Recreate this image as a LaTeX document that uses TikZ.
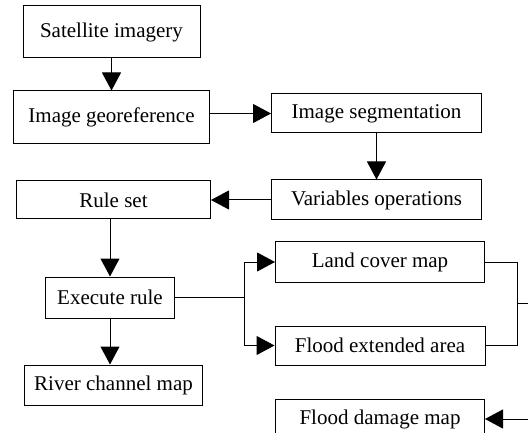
\documentclass[tikz,border=0pt]{standalone}
\usepackage{fontspec}
\setmainfont{Liberation Serif}
\usetikzlibrary{positioning,arrows.meta,calc}

\begin{document}
\begin{tikzpicture}
            [x=1pt,y=1pt,
             box/.style={draw,line width=1pt,minimum height=40pt,
                         inner sep=0pt,font=\fontsize{21}{25}\selectfont},
             arr/.style={line width=1pt,-{Triangle[length=18pt,width=19pt]}},
             ln/.style={line width=1pt}]
            \useasboundingbox (0,0) rectangle (528,-433);
            % left column and top row
            \node[box,minimum width=177pt,minimum height=52pt](sat) at (111.5,-32){Satellite imagery};
            \node[box,minimum width=196pt,minimum height=53pt](geo)[below =32pt of sat]{Image georeference};
            \node[box,minimum width=210pt,minimum height=39pt](seg)[right =61pt of geo,yshift=4pt]{Image segmentation};
            \node[box,minimum width=210pt](var)[below =46pt of seg]{Variables operations};
            \node[box,minimum width=194pt,minimum height=38pt](rule)[left =60pt of var]{Rule set};
            \node[box,minimum width=129pt,minimum height=41pt](exec)[below =57pt of rule,xshift=-3.5pt]{Execute rule};
            \node[box,minimum width=178pt](river)[below =46pt of exec,xshift=3.5pt]{River channel map};
            % right column
            \node[box,minimum width=209pt](land)[below =21pt of var,xshift=3.5pt]{Land cover map};
            \node[box,minimum width=210pt,minimum height=39pt](flood)[below =43pt of land]{Flood extended area};
            \node[box,minimum width=209pt](damage)[below =33pt of flood]{Flood damage map};
            % branch points
            \coordinate[right =69pt of exec.east](fork);
            \coordinate[right =32pt of land.east](j1);
            \coordinate(j2) at ($(j1)!0.5!(j1 |- flood.east)$);
            \coordinate[right =40pt of j2](out);
            \coordinate[right =60pt of damage.east](in);
            % connectors
            \draw[arr](sat.south) -- (sat.south |- geo.north);
            \draw[arr](geo.east |- seg.west) -- (seg.west);
            \draw[arr](seg.south) -- (seg.south |- var.north);
            \draw[arr](var.west) -- (var.west -| rule.east);
            \draw[arr](exec.north |- rule.south) -- (exec.north);
            \draw[arr](exec.south) -- (exec.south |- river.north);
            \draw[ln](exec.east) -- (fork);
            \draw[arr](fork) |- (land.west);
            \draw[arr](fork) |- (flood.west);
            \draw[ln](land.east) -- (j1) |- (flood.east);
            \draw[ln](j2) -- (out);
            \draw[arr](in) -- (damage.east);
        \end{tikzpicture}
\end{document}
